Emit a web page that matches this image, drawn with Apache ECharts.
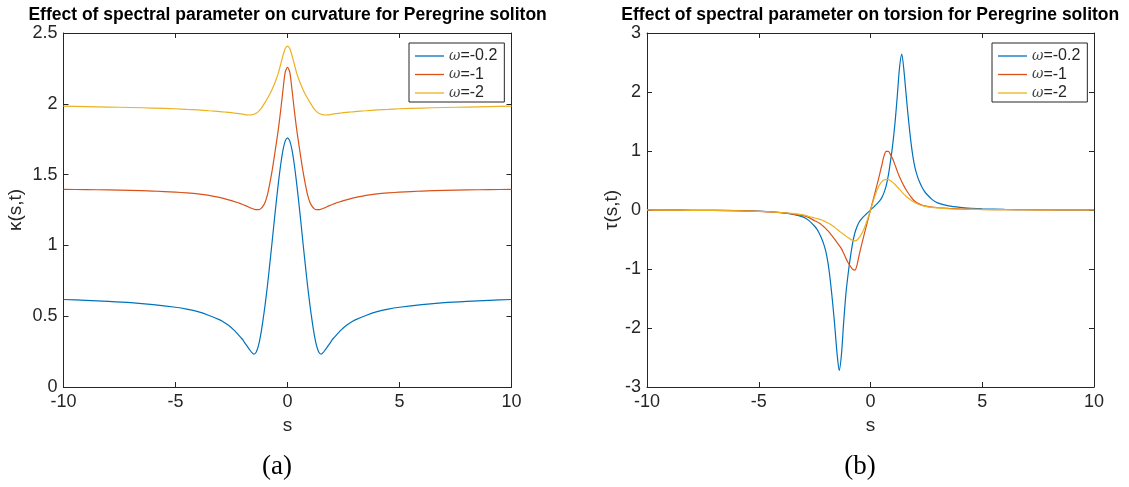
<!DOCTYPE html>
<html>
<head>
<meta charset="utf-8">
<script src="https://cdn.jsdelivr.net/npm/echarts@6/dist/echarts.min.js"></script>
<style>
html,body{margin:0;padding:0;background:#fff;}
#c{width:1129px;height:487px;}
</style>
</head>
<body>
<div id="c"></div>
<script>
// ---------- data ----------
const seriesNames = ['ω=-0.2', 'ω=-1', 'ω=-2'];
const xTicks = [-10, -5, 0, 5, 10];
const kappaTicks = [0, 0.5, 1, 1.5, 2, 2.5];
const tauTicks = [-3, -2, -1, 0, 1, 2, 3];

// sample positions s (shared by every series)
const sValues = [-10,-9,-8,-7,-6,-5,-4.5,-4,-3.5,-3,-2.75,
  -2.5,-2.4,-2.3,-2.2,-2.1,-2,-1.9,-1.8,-1.7,-1.6,-1.5,-1.4,-1.3,-1.2,-1.1,-1,-0.9,-0.8,-0.7,-0.6,-0.5,-0.4,-0.3,-0.2,-0.1,
  0,
  0.1,0.2,0.3,0.4,0.5,0.6,0.7,0.8,0.9,1,1.1,1.2,1.3,1.4,1.5,1.6,1.7,1.8,1.9,2,2.1,2.2,2.3,2.4,2.5,
  2.75,3,3.5,4,4.5,5,6,7,8,9,10];

// curvature kappa(s,t)
const kappaW02 = [0.618,0.612,0.605,0.596,0.582,0.563,0.550,0.532,0.505,0.472,0.448,
  0.418,0.403,0.387,0.370,0.352,0.335,0.310,0.288,0.266,0.245,0.232,0.245,0.290,0.365,0.465,0.580,0.710,0.855,1.005,1.160,1.310,1.450,1.575,1.675,1.738,
  1.760,
  1.738,1.675,1.575,1.450,1.310,1.160,1.005,0.855,0.710,0.580,0.465,0.365,0.290,0.245,0.232,0.245,0.266,0.288,0.310,0.335,0.352,0.370,0.387,0.403,0.418,
  0.448,0.472,0.505,0.532,0.550,0.563,0.582,0.596,0.605,0.612,0.618];
const kappaW1 = [1.396,1.394,1.392,1.389,1.384,1.376,1.371,1.364,1.353,1.337,1.327,
  1.316,1.311,1.306,1.301,1.295,1.289,1.283,1.276,1.268,1.262,1.256,1.252,1.252,1.258,1.275,1.305,1.355,1.430,1.515,1.615,1.720,1.830,1.960,2.100,2.225,
  2.257,
  2.225,2.100,1.960,1.830,1.720,1.615,1.515,1.430,1.355,1.305,1.275,1.258,1.252,1.252,1.256,1.262,1.268,1.276,1.283,1.289,1.295,1.301,1.306,1.311,1.316,
  1.327,1.337,1.353,1.364,1.371,1.376,1.384,1.389,1.392,1.394,1.396];
const kappaW2 = [1.983,1.980,1.977,1.974,1.970,1.965,1.961,1.957,1.951,1.945,1.941,
  1.937,1.935,1.933,1.931,1.929,1.927,1.924,1.922,1.921,1.922,1.926,1.933,1.945,1.962,1.985,2.010,2.037,2.066,2.098,2.134,2.175,2.222,2.282,2.342,2.390,
  2.408,
  2.390,2.342,2.282,2.222,2.175,2.134,2.098,2.066,2.037,2.010,1.985,1.962,1.945,1.933,1.926,1.922,1.921,1.922,1.924,1.927,1.929,1.931,1.933,1.935,1.937,
  1.941,1.945,1.951,1.957,1.961,1.965,1.970,1.974,1.977,1.980,1.983];

// torsion tau(s,t)
const tauW02 = [0,-0.002,-0.004,-0.006,-0.010,-0.020,-0.030,-0.045,-0.070,-0.120,-0.180,
  -0.275,-0.325,-0.390,-0.470,-0.570,-0.700,-0.900,-1.190,-1.550,-1.960,-2.420,-2.720,-2.450,-1.900,-1.420,-1.080,-0.800,-0.560,-0.390,-0.280,-0.200,-0.150,-0.108,-0.072,-0.036,
  0,
  0.036,0.072,0.108,0.150,0.205,0.290,0.410,0.590,0.840,1.130,1.490,1.940,2.420,2.644,2.350,1.930,1.530,1.180,0.900,0.700,0.570,0.470,0.390,0.325,0.275,
  0.180,0.120,0.070,0.045,0.030,0.020,0.010,0.006,0.004,0.002,0];
const tauW1 = [0,-0.002,-0.004,-0.007,-0.012,-0.022,-0.032,-0.045,-0.068,-0.098,-0.130,
  -0.182,-0.200,-0.222,-0.248,-0.280,-0.315,-0.355,-0.400,-0.447,-0.497,-0.550,-0.600,-0.655,-0.735,-0.820,-0.895,-0.955,-1.005,-1.020,-0.930,-0.750,-0.590,-0.440,-0.290,-0.145,
  0,
  0.145,0.290,0.440,0.590,0.750,0.910,0.995,0.995,0.935,0.860,0.760,0.655,0.560,0.480,0.405,0.340,0.280,0.225,0.178,0.145,0.120,0.100,0.085,0.073,0.065,
  0.048,0.038,0.026,0.018,0.013,0.010,0.006,0.004,0.002,0.001,0];
const tauW2 = [0,-0.002,-0.005,-0.008,-0.013,-0.022,-0.030,-0.042,-0.058,-0.080,-0.110,
  -0.135,-0.144,-0.154,-0.166,-0.184,-0.202,-0.221,-0.243,-0.267,-0.295,-0.327,-0.356,-0.385,-0.413,-0.443,-0.470,-0.495,-0.513,-0.522,-0.508,-0.465,-0.405,-0.330,-0.230,-0.118,
  0,
  0.122,0.240,0.345,0.425,0.478,0.508,0.518,0.515,0.497,0.468,0.432,0.390,0.348,0.306,0.266,0.230,0.198,0.170,0.145,0.124,0.105,0.090,0.077,0.067,0.058,
  0.044,0.035,0.021,0.015,0.011,0.008,0.005,0.003,0.002,0.001,0];

const titles = ['Effect of spectral parameter on curvature for Peregrine soliton',
                'Effect of spectral parameter on torsion for Peregrine soliton'];
const captions = ['(a)', '(b)'];
const xName = 's';
const yNames = ['κ(s,t)', 'τ(s,t)'];

// ---------- styling ----------
const colors = ['#0072BD', '#D95319', '#EDB120'];
const axisColor = '#262626';
const sans = '"Liberation Sans", Arial, Helvetica, sans-serif';
const grids = [
  {left: 63.5, top: 33, width: 448, height: 354},
  {left: 647, top: 33, width: 447, height: 354}
];

function pairs(vals) { return sValues.map(function (s, i) { return [s, vals[i]]; }); }

function mkX(gi, bottom) {
  return {
    type: 'value', gridIndex: gi, position: bottom ? 'bottom' : 'top',
    min: xTicks[0], max: xTicks[xTicks.length - 1], interval: 5,
    axisLine: {show: true, onZero: false, lineStyle: {color: axisColor, width: 1}},
    axisTick: {show: true, inside: true, length: 5, lineStyle: {color: axisColor}},
    axisLabel: {show: bottom, color: axisColor, fontFamily: sans, fontSize: 18, margin: 6},
    splitLine: {show: false},
    name: bottom ? xName : '', nameLocation: 'middle', nameGap: 26,
    nameTextStyle: {color: axisColor, fontFamily: sans, fontSize: 19}
  };
}
function mkY(gi, left, ticks, nameGap) {
  return {
    type: 'value', gridIndex: gi, position: left ? 'left' : 'right',
    min: ticks[0], max: ticks[ticks.length - 1], interval: ticks[1] - ticks[0],
    axisLine: {show: true, onZero: false, lineStyle: {color: axisColor, width: 1}},
    axisTick: {show: true, inside: true, length: 5, lineStyle: {color: axisColor}},
    axisLabel: {show: left, color: axisColor, fontFamily: sans, fontSize: 18, margin: 6},
    splitLine: {show: false},
    name: left ? yNames[gi] : '', nameLocation: 'middle', nameGap: nameGap,
    nameTextStyle: {color: axisColor, fontFamily: sans, fontSize: 19}
  };
}

function mkSeries(name, vals, ci, gi) {
  return {
    type: 'line', name: name, data: pairs(vals), xAxisIndex: gi * 2, yAxisIndex: gi * 2,
    showSymbol: false, symbol: 'none', smooth: 0.25,
    lineStyle: {color: colors[ci], width: 1.2}, itemStyle: {color: colors[ci]},
    animation: false
  };
}

function mkLegend(left) {
  return {
    left: left, top: 43, orient: 'vertical',
    data: seriesNames.map(function (n, i) { return {name: n, icon: 'rect', itemStyle: {color: colors[i]}}; }),
    backgroundColor: '#fff', borderColor: axisColor, borderWidth: 1,
    padding: [5, 7, 1, 6], itemGap: 2.5, itemWidth: 29, itemHeight: 1.3,
    formatter: function (n) { return '{w|ω}{t|' + n.slice(1) + '}'; },
    textStyle: {
      color: axisColor, fontFamily: sans, fontSize: 16, lineHeight: 16,
      rich: {
        w: {fontStyle: 'italic', fontFamily: '"DejaVu Serif", serif', fontSize: 14, lineHeight: 16, color: '#444'},
        t: {fontFamily: sans, fontSize: 16, lineHeight: 16, color: axisColor}
      }
    },
    selectedMode: false
  };
}

const chart = echarts.init(document.getElementById('c'), null, {renderer: 'canvas'});
chart.setOption({
  animation: false,
  backgroundColor: '#fff',
  grid: grids,
  xAxis: [mkX(0, true), mkX(0, false), mkX(1, true), mkX(1, false)],
  yAxis: [mkY(0, true, kappaTicks, 38), mkY(0, false, kappaTicks, 0), mkY(1, true, tauTicks, 24), mkY(1, false, tauTicks, 0)],
  legend: [mkLegend(409), mkLegend(992)],
  series: [
    mkSeries(seriesNames[0], kappaW02, 0, 0),
    mkSeries(seriesNames[1], kappaW1, 1, 0),
    mkSeries(seriesNames[2], kappaW2, 2, 0),
    mkSeries(seriesNames[0], tauW02, 0, 1),
    mkSeries(seriesNames[1], tauW1, 1, 1),
    mkSeries(seriesNames[2], tauW2, 2, 1)
  ],
  graphic: [
    {type: 'text', x: 287.6, y: 15.5, style: {text: titles[0], font: 'bold 17.5px ' + sans, fill: '#000', textAlign: 'center', textVerticalAlign: 'middle'}},
    {type: 'text', x: 870.3, y: 15.5, style: {text: titles[1], font: 'bold 17.5px ' + sans, fill: '#000', textAlign: 'center', textVerticalAlign: 'middle'}},
    {type: 'text', x: 277, y: 467, style: {text: captions[0], font: '27px "Liberation Serif", "DejaVu Serif", serif', fill: '#000', textAlign: 'center', textVerticalAlign: 'middle'}},
    {type: 'text', x: 860, y: 467, style: {text: captions[1], font: '27px "Liberation Serif", "DejaVu Serif", serif', fill: '#000', textAlign: 'center', textVerticalAlign: 'middle'}}
  ]
});
</script>
</body>
</html>
